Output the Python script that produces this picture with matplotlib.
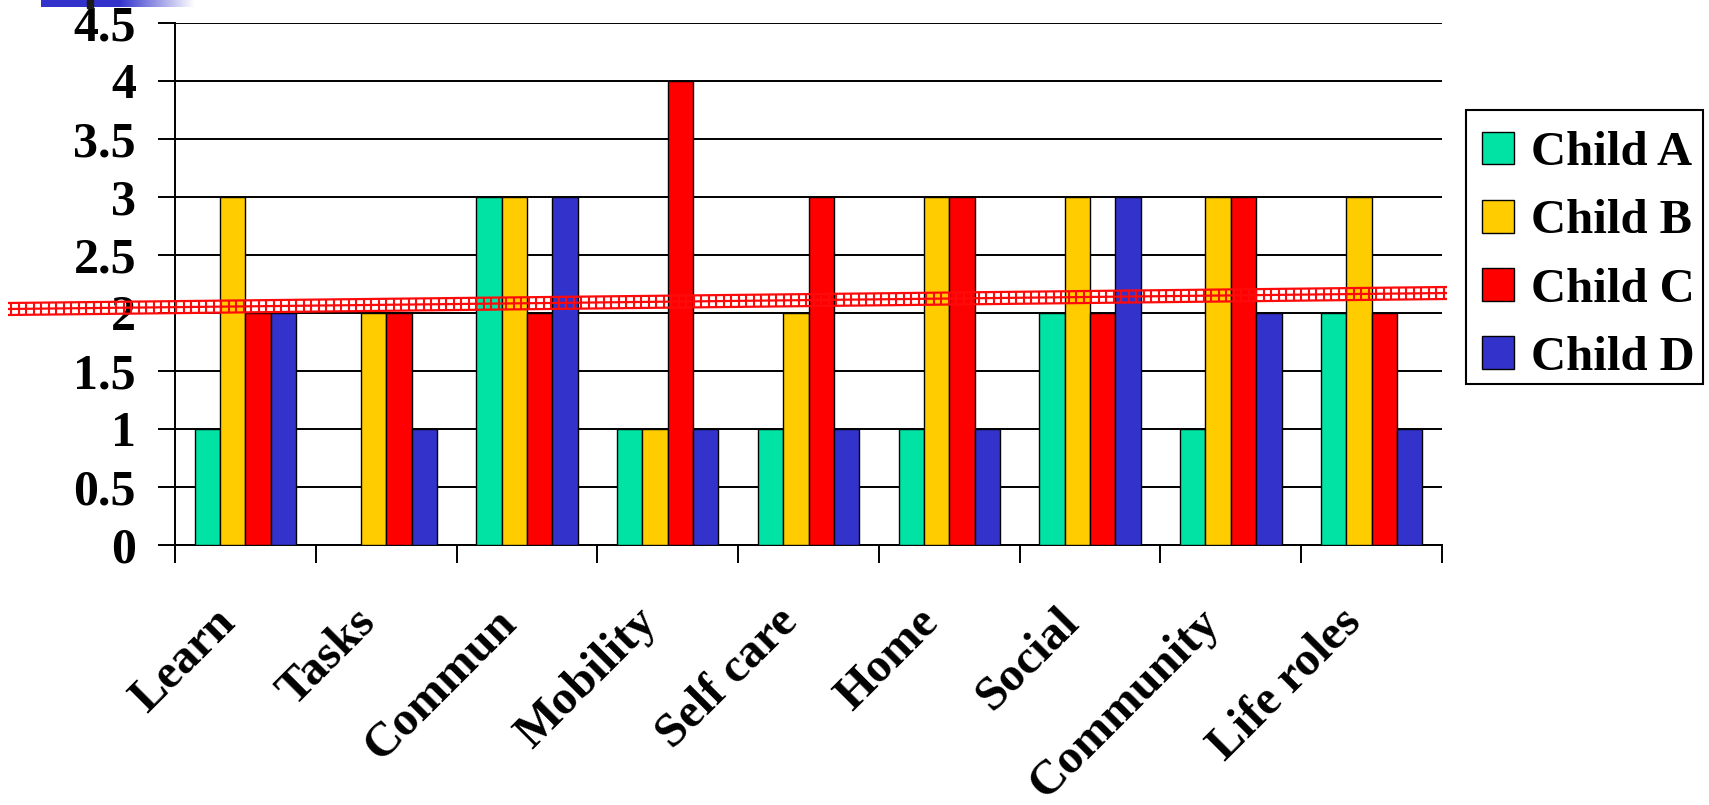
import numpy as np
import matplotlib
matplotlib.use("Agg")
import matplotlib.pyplot as plt
import matplotlib.transforms as mtransforms
from matplotlib.patches import Rectangle
from matplotlib.collections import LineCollection

# ---------- data ----------
categories = ["Learn", "Tasks", "Commun", "Mobility", "Self care",
              "Home", "Social", "Community", "Life roles"]
child_a = [1, 0, 3, 1, 1, 1, 2, 1, 2]
child_b = [3, 2, 3, 1, 2, 3, 3, 3, 3]
child_c = [2, 2, 2, 4, 3, 3, 2, 3, 2]
child_d = [2, 1, 3, 1, 1, 1, 3, 2, 1]
series_names = ["Child A", "Child B", "Child C", "Child D"]
colors = ["#00E3A5", "#FFCC00", "#FF0000", "#3333CC"]
y_ticks = [0, 0.5, 1, 1.5, 2, 2.5, 3, 3.5, 4, 4.5]
y_labels = ["0", "0.5", "1", "1.5", "2", "2.5", "3", "3.5", "4", "4.5"]
# --------------------------

plt.rcParams['font.family'] = ['Liberation Serif', 'DejaVu Serif']
plt.rcParams['font.weight'] = 'bold'

W, H = 1709, 805
fig = plt.figure(figsize=(W / 100, H / 100), dpi=100)
ax = fig.add_axes([175 / W, 1 - 545 / H, (1442 - 175) / W, (545 - 23) / H])

x = np.arange(len(categories))
bw = 0.18
all_series = [child_a, child_b, child_c, child_d]
for i, (vals, name, col) in enumerate(zip(all_series, series_names, colors)):
    ax.bar(x + (i - 1.5) * bw, vals, bw, color=col, edgecolor='black',
           linewidth=1.0, label=name, zorder=3)

ax.set_xlim(-0.5, len(categories) - 0.5)
ax.set_ylim(0, 4.5)
ax.yaxis.grid(True, color='black', linewidth=1.4)
ax.set_axisbelow(True)
for s in ['top', 'right']:
    ax.spines[s].set_visible(False)
for s in ['left', 'bottom']:
    ax.spines[s].set_linewidth(1.4)

ax.set_yticks(y_ticks, y_labels)
ax.tick_params(axis='y', length=12, width=1.4, pad=16, labelsize=36)

ax.set_xticks(x, categories)
ax.set_xticks(np.arange(-0.5, len(categories)), minor=True)
ax.tick_params(axis='x', which='major', length=0, pad=0, labelsize=35)
ax.tick_params(axis='x', which='minor', length=13, width=1.4)
offset = mtransforms.ScaledTranslation(-0.09, -0.79, fig.dpi_scale_trans)
for lab in ax.get_xticklabels():
    lab.set_rotation(45)
    lab.set_ha('right')
    lab.set_va('baseline')
    lab.set_rotation_mode('anchor')
    lab.set_transform(lab.get_transform() + offset)

# legend: entries without frame, box drawn separately
leg = ax.legend(loc='upper left', bbox_to_anchor=(1482 / W, 1 - 131 / H),
                bbox_transform=fig.transFigure, prop={'size': 35, 'weight': 'bold'},
                frameon=False, handlelength=0.66, handleheight=0.66,
                handletextpad=0.35, labelspacing=0.5, borderpad=0,
                borderaxespad=0)
fig.add_artist(Rectangle((1466 / W, 1 - 384 / H), (1703 - 1466) / W,
                         (384 - 110) / H, transform=fig.transFigure,
                         fill=False, edgecolor='black', linewidth=1.5))

# blue gradient strip top-left
gax = fig.add_axes([41 / W, 1 - 7 / H, (195 - 41) / W, 7 / H])
gax.set_axis_off()
t = np.linspace(0, 1, 154)
f = np.clip((t - 0.51) / 0.49, 0, 1)
blue = np.array([0x33, 0x33, 0xCC]) / 255
grad = blue[None, :] * (1 - f[:, None]) + f[:, None]
gax.imshow(grad[None, :, :], aspect='auto', extent=[0, 1, 0, 1])
fig.add_artist(Rectangle((87 / W, 1 - 8 / H), 6 / W, 8 / H,
                         transform=fig.transFigure, color='#1a1a1a'))

# red hatched band overlay
ov = fig.add_axes([0, 0, 1, 1], zorder=10)
ov.set_xlim(0, W)
ov.set_ylim(H, 0)
ov.set_axis_off()
x0, y0, x1, y1 = 8, 309, 1447, 293
hw = 6
for o in [-hw, 0, hw]:
    ov.plot([x0, x1], [y0 + o, y1 + o], color='#FF0A0A', lw=1.6,
            solid_capstyle='butt')
xs = np.arange(x0 + 3, x1, 7.5)
ys = y0 + (y1 - y0) * (xs - x0) / (x1 - x0)
segs = [[(a, b - hw), (a, b + hw)] for a, b in zip(xs, ys)]
ov.add_collection(LineCollection(segs, colors='#FF0A0A', linewidths=1.5))

fig.savefig("out.png", dpi=100)
